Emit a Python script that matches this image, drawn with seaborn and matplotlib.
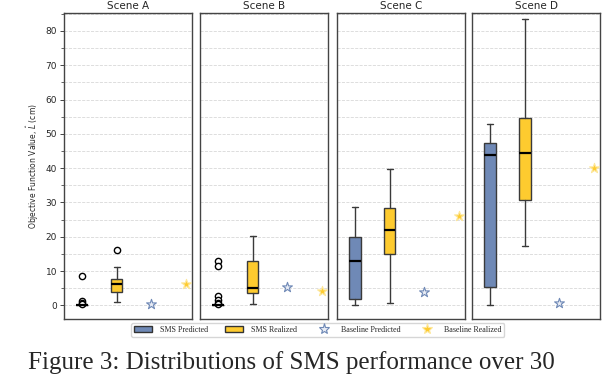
import matplotlib
matplotlib.use("Agg")
import matplotlib.pyplot as plt
import matplotlib.patches as mpatches
from matplotlib.lines import Line2D
from matplotlib.ticker import MultipleLocator
import seaborn as sns

# values (cm)
scenes = ["Scene A", "Scene B", "Scene C", "Scene D"]

# SMS predicted boxes: whisker low, q1, median, q3, whisker high
pred_lo = [0.0, 0.0, 0.2, 0.1]
pred_q1 = [0.0, 0.0, 1.9, 5.4]
pred_med = [0.0, 0.0, 12.9, 43.9]
pred_q3 = [0.0, 0.0, 19.9, 47.3]
pred_hi = [0.0, 0.0, 28.6, 53.0]
pred_fliers = [[8.5, 1.2, 0.7, 0.3], [13.0, 11.6, 2.6, 1.5, 0.6, 0.3], [], []]

# SMS realized boxes
real_lo = [1.0, 0.5, 0.7, 17.2]
real_q1 = [3.9, 3.7, 15.1, 30.8]
real_med = [6.1, 5.1, 22.1, 44.4]
real_q3 = [7.8, 12.9, 28.4, 54.7]
real_hi = [11.2, 20.1, 39.7, 83.4]
real_fliers = [[16.1], [], [], []]

# baselines
base_pred = [0.3, 5.4, 4.0, 0.6]
base_real = [6.1, 4.2, 26.0, 40.0]

blue = "#6f89b6"
yellow = "#fecb2f"

sns.set_style("white")
plt.rcParams["font.family"] = ["DejaVu Sans"]

fig = plt.figure(figsize=(6.06, 3.74), dpi=100)
lefts = [0.1056, 0.330, 0.556, 0.779]
axes = [fig.add_axes([l, 0.147, 0.2112, 0.818]) for l in lefts]

for i, ax in enumerate(axes):
    stats = [
        dict(whislo=pred_lo[i], q1=pred_q1[i], med=pred_med[i], q3=pred_q3[i],
             whishi=pred_hi[i], fliers=pred_fliers[i]),
        dict(whislo=real_lo[i], q1=real_q1[i], med=real_med[i], q3=real_q3[i],
             whishi=real_hi[i], fliers=real_fliers[i]),
    ]
    bp = ax.bxp(stats, positions=[0, 1], widths=0.33, patch_artist=True,
                boxprops=dict(edgecolor="#3a3a3a", linewidth=1.0),
                whiskerprops=dict(color="#3a3a3a", linewidth=1.0),
                capprops=dict(color="#3a3a3a", linewidth=1.0),
                medianprops=dict(color="black", linewidth=1.6),
                flierprops=dict(marker="o", markerfacecolor="white",
                                markeredgecolor="black", markersize=4.5,
                                markeredgewidth=1.0))
    bp["boxes"][0].set_facecolor(blue)
    bp["boxes"][1].set_facecolor(yellow)

    sns.scatterplot(x=[2], y=[base_pred[i]], marker="*", s=55, color="#e8ecf5",
                    edgecolor=blue, linewidth=0.8, ax=ax, zorder=3)
    sns.scatterplot(x=[3], y=[base_real[i]], marker="*", s=55, color=yellow,
                    edgecolor="#fde79a", linewidth=0.8, ax=ax, zorder=3)

    ax.set_xlim(-0.52, 3.17)
    ax.set_ylim(-4, 85.2)
    ax.set_xticks([])
    ax.yaxis.set_major_locator(MultipleLocator(10))
    ax.yaxis.set_minor_locator(MultipleLocator(5))
    ax.grid(True, which="both", axis="y", linestyle="--", color="#d8d8d8",
            linewidth=0.6)
    ax.set_axisbelow(True)
    for sp in ax.spines.values():
        sp.set_color("#444444")
        sp.set_linewidth(1.0)
    ax.set_title(scenes[i], fontsize=7.5, pad=3)
    if i == 0:
        ax.tick_params(axis="y", which="major", labelsize=6.5, length=3,
                       width=0.6, left=True, pad=2)
        ax.tick_params(axis="y", which="minor", length=2, width=0.5, left=True)
        ax.set_ylabel(r"Objective Function Value, $\hat{L}$ (cm)", fontsize=5.5,
                      labelpad=3)
    else:
        ax.tick_params(axis="y", which="both", left=False, labelleft=False)

handles = [
    mpatches.Patch(facecolor=blue, edgecolor="#333333", label="SMS Predicted"),
    mpatches.Patch(facecolor=yellow, edgecolor="#333333", label="SMS Realized"),
    Line2D([], [], marker="*", linestyle="none", markersize=8,
           markerfacecolor="#e8ecf5", markeredgecolor=blue,
           markeredgewidth=0.8, label="Baseline Predicted"),
    Line2D([], [], marker="*", linestyle="none", markersize=8,
           markerfacecolor=yellow, markeredgecolor="#fde79a",
           markeredgewidth=0.8, label="Baseline Realized"),
]
fig.legend(handles=handles, loc="center", bbox_to_anchor=(0.524, 0.118),
           ncol=4, frameon=True, handlelength=2.2,
           columnspacing=2.2, borderpad=0.35, handletextpad=1.0,
           prop=dict(family="Liberation Serif", size=5.8), edgecolor="#cccccc")

fig.text(0.047, 0.0, "Figure 3: Distributions of SMS performance over 30",
         fontsize=18, family="Liberation Serif", va="bottom", ha="left")

fig.savefig("out.png", dpi=100)
